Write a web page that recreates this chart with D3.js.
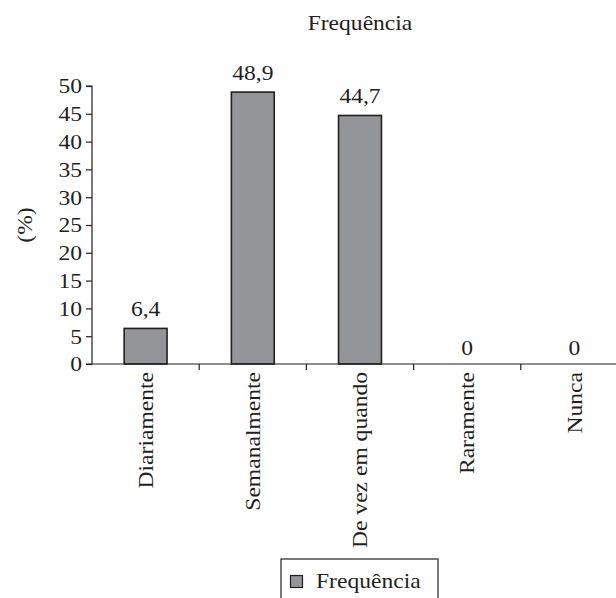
<!DOCTYPE html>
<html><head><meta charset="utf-8">
<script src="https://cdn.jsdelivr.net/npm/d3@7"></script>
<style>
body{margin:0;background:#fff;}
text{font-family:"Liberation Serif","Times New Roman",serif;fill:#231f20;}
</style></head>
<body>
<svg id="c" width="616" height="598"></svg>
<script>
const categories = ["Diariamente","Semanalmente","De vez em quando","Raramente","Nunca"];
const values = [6.4, 48.9, 44.7, 0, 0];
const valueLabels = ["6,4","48,9","44,7","0","0"];
const yTicks = [0,5,10,15,20,25,30,35,40,45,50];
const seriesName = "Frequência";
const chartTitle = "Frequência";
const yTitle = "(%)";

const svg = d3.select("#c");
const mLeft = 92, mRight = 628, mTop = 86, mBottom = 364;
const fs = 20.5;
const sx = 1.15;
const ink = "#231f20";
const barFill = "#939598";

const x = d3.scaleBand().domain(categories).range([mLeft, mRight]).paddingInner(0.6).paddingOuter(0.3);
const y = d3.scaleLinear().domain([0,50]).range([mBottom, mTop]);

function txt(parent, tx, ty, rot, anchor, s, dy){
  return parent.append("text")
    .attr("transform", `translate(${tx},${ty})${rot?` rotate(${rot})`:""} scale(${sx},1)`)
    .attr("text-anchor", anchor).attr("font-size", fs).attr("dy", dy||0).text(s);
}

// title
txt(svg, 360, 30, 0, "middle", chartTitle);

// bars
svg.selectAll("rect.bar").data(values).enter().append("rect")
  .attr("class","bar")
  .attr("x",(d,i)=>x(categories[i]))
  .attr("width", x.bandwidth())
  .attr("y", d=>y(d))
  .attr("height", d=>mBottom - y(d))
  .attr("fill",barFill).attr("stroke",ink).attr("stroke-width",1.6);

// value labels
values.forEach((d,i)=>{
  txt(svg, x(categories[i]) + x.bandwidth()/2, y(d) - (d>0?12:9), 0, "middle", valueLabels[i]);
});

// y axis
const yAxis = d3.axisLeft(y).tickValues(yTicks).tickSize(6).tickPadding(3).tickFormat(d3.format("d"));
const gy = svg.append("g").attr("transform",`translate(${mLeft},0)`).call(yAxis);
gy.select(".domain").attr("stroke",ink).attr("stroke-width",1.2).attr("d",`M-6,${mTop}H0V${mBottom}H-6`);
gy.selectAll(".tick line").attr("stroke",ink).attr("stroke-width",1.2);
gy.selectAll(".tick text").attr("font-size",fs).attr("font-family","Liberation Serif").attr("fill",ink)
  .attr("x",0).attr("dy","0.34em").attr("transform",`translate(-10,0) scale(${sx},1)`);

// x axis
const gx = svg.append("g").attr("transform",`translate(0,${mBottom})`);
gx.append("line").attr("x1",mLeft).attr("x2",mRight).attr("y1",0).attr("y2",0)
  .attr("stroke",ink).attr("stroke-width",1.2);
gx.selectAll("line.tk").data(categories.slice(1)).enter().append("line")
  .attr("class","tk")
  .attr("x1",d=>x(d) - x.step()*x.paddingInner()/2)
  .attr("x2",d=>x(d) - x.step()*x.paddingInner()/2)
  .attr("y1",0).attr("y2",6).attr("stroke",ink).attr("stroke-width",1.2);
categories.forEach(c=>{
  txt(gx, x(c)+x.bandwidth()/2, 8, -90, "end", c, "0.35em");
});

// y title
txt(svg, 25, 225, -90, "middle", yTitle, "0.35em");

// legend
const lg = svg.append("g");
lg.append("rect").attr("x",281).attr("y",559).attr("width",157).attr("height",60)
  .attr("fill","#fff").attr("stroke",ink).attr("stroke-width",1.2);
lg.append("rect").attr("x",290.5).attr("y",575.5).attr("width",12).attr("height",12)
  .attr("fill",barFill).attr("stroke",ink).attr("stroke-width",1.2);
txt(lg, 316, 588, 0, "start", seriesName);
</script>
</body></html>
